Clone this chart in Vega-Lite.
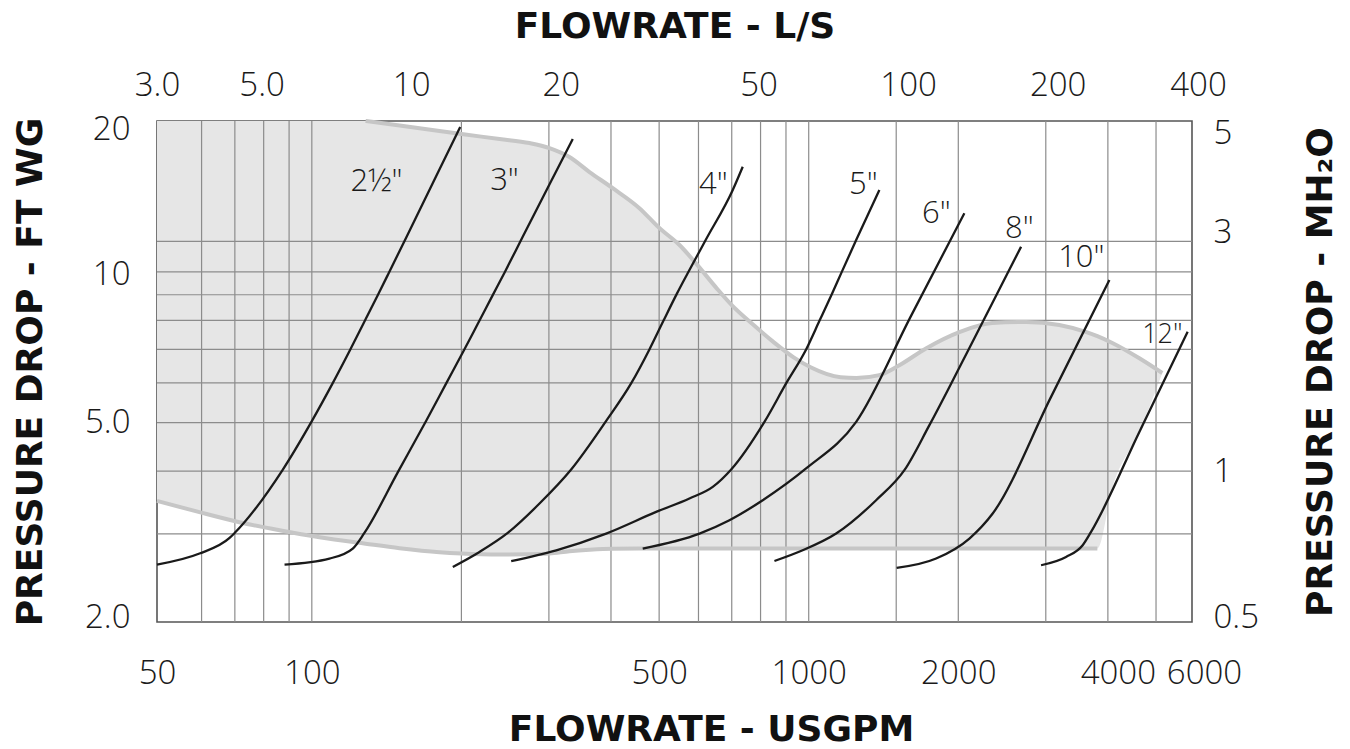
{
  "$schema": "https://vega.github.io/schema/vega-lite/v6.json",
  "width": 1035,
  "height": 501,
  "autosize": {"type": "none"},
  "padding": {"left": 157, "top": 121, "right": 158, "bottom": 127},
  "background": "#ffffff",
  "config": {
    "view": {"stroke": "#555555", "strokeWidth": 1.6},
    "axis": {
      "domain": false, "ticks": false, "grid": false,
      "labelFont": "Open Sans", "labelFontSize": 33, "labelFontWeight": 300, "labelColor": "#1a1a1a",
      "labelOverlap": false, "labelBound": false, "labelFlush": false, "labelAngle": 0,
      "titleFont": "DejaVu Sans", "titleFontWeight": "bold", "titleFontSize": 36, "titleColor": "#111111"
    }
  },
  "datasets": {
    "region": [
      {"gpm": 48.8, "up": 20, "lo": 3.49},
      {"gpm": 59.4, "up": 20, "lo": 3.313},
      {"gpm": 71.5, "up": 20, "lo": 3.164},
      {"gpm": 86.1, "up": 20, "lo": 3.05},
      {"gpm": 103.6, "up": 20, "lo": 2.953},
      {"gpm": 128.3, "up": 20, "lo": 2.866},
      {"gpm": 150.2, "up": 19.59, "lo": 2.807},
      {"gpm": 180.7, "up": 19.1, "lo": 2.756},
      {"gpm": 200.1, "up": 18.84, "lo": 2.74},
      {"gpm": 238.6, "up": 18.41, "lo": 2.728},
      {"gpm": 274.2, "up": 18.07, "lo": 2.731},
      {"gpm": 300.8, "up": 17.66, "lo": 2.74},
      {"gpm": 330, "up": 16.95, "lo": 2.769},
      {"gpm": 362.1, "up": 15.82, "lo": 2.788},
      {"gpm": 402.7, "up": 14.7, "lo": 2.801},
      {"gpm": 456.3, "up": 13.4, "lo": 2.803},
      {"gpm": 500.6, "up": 12.23, "lo": 2.803},
      {"gpm": 549.5, "up": 11.31, "lo": 2.803},
      {"gpm": 597.1, "up": 10.31, "lo": 2.803},
      {"gpm": 652.3, "up": 9.28, "lo": 2.803},
      {"gpm": 702.4, "up": 8.55, "lo": 2.803},
      {"gpm": 774.7, "up": 7.83, "lo": 2.803},
      {"gpm": 850, "up": 7.24, "lo": 2.803},
      {"gpm": 932.4, "up": 6.75, "lo": 2.803},
      {"gpm": 1008.8, "up": 6.45, "lo": 2.803},
      {"gpm": 1159.6, "up": 6.16, "lo": 2.803},
      {"gpm": 1247, "up": 6.14, "lo": 2.803},
      {"gpm": 1387.5, "up": 6.22, "lo": 2.803},
      {"gpm": 1521.8, "up": 6.51, "lo": 2.803},
      {"gpm": 1725, "up": 7.04, "lo": 2.803},
      {"gpm": 2010, "up": 7.58, "lo": 2.803},
      {"gpm": 2342, "up": 7.9, "lo": 2.803},
      {"gpm": 2742, "up": 7.94, "lo": 2.803},
      {"gpm": 3194, "up": 7.83, "lo": 2.803},
      {"gpm": 3621, "up": 7.58, "lo": 2.803},
      {"gpm": 3810, "up": 7.44, "lo": 2.803},
      {"gpm": 4084, "up": 7.21, "lo": 3.706},
      {"gpm": 4629, "up": 6.72, "lo": 4.79},
      {"gpm": 5148, "up": 6.28, "lo": 6.28}
    ],
    "pipes": [
      {"pipe": "2½\"", "gpm": 48.8, "ft": 2.604},
      {"pipe": "2½\"", "gpm": 59.43, "ft": 2.74},
      {"pipe": "2½\"", "gpm": 68.31, "ft": 2.943},
      {"pipe": "2½\"", "gpm": 69.91, "ft": 3.01},
      {"pipe": "2½\"", "gpm": 87.44, "ft": 4.031},
      {"pipe": "2½\"", "gpm": 100.2, "ft": 5.053},
      {"pipe": "2½\"", "gpm": 109.9, "ft": 5.968},
      {"pipe": "2½\"", "gpm": 119.1, "ft": 6.95},
      {"pipe": "2½\"", "gpm": 126.6, "ft": 7.832},
      {"pipe": "2½\"", "gpm": 135.8, "ft": 8.99},
      {"pipe": "2½\"", "gpm": 142.2, "ft": 9.856},
      {"pipe": "2½\"", "gpm": 154.9, "ft": 11.71},
      {"pipe": "2½\"", "gpm": 175.2, "ft": 15.04},
      {"pipe": "2½\"", "gpm": 198.9, "ft": 19.45},
      {"pipe": "3\"", "gpm": 88.13, "ft": 2.604},
      {"pipe": "3\"", "gpm": 108.5, "ft": 2.677},
      {"pipe": "3\"", "gpm": 120.9, "ft": 2.803},
      {"pipe": "3\"", "gpm": 127.6, "ft": 3.012},
      {"pipe": "3\"", "gpm": 149.0, "ft": 3.982},
      {"pipe": "3\"", "gpm": 169.9, "ft": 5.043},
      {"pipe": "3\"", "gpm": 186.4, "ft": 5.988},
      {"pipe": "3\"", "gpm": 202.0, "ft": 6.947},
      {"pipe": "3\"", "gpm": 215.8, "ft": 7.875},
      {"pipe": "3\"", "gpm": 231.4, "ft": 8.994},
      {"pipe": "3\"", "gpm": 244.2, "ft": 9.961},
      {"pipe": "3\"", "gpm": 265.1, "ft": 11.69},
      {"pipe": "3\"", "gpm": 300.9, "ft": 14.95},
      {"pipe": "3\"", "gpm": 335.1, "ft": 18.41},
      {"pipe": "4\"", "gpm": 192.2, "ft": 2.576},
      {"pipe": "4\"", "gpm": 217.5, "ft": 2.76},
      {"pipe": "4\"", "gpm": 247.9, "ft": 3.012},
      {"pipe": "4\"", "gpm": 287.2, "ft": 3.447},
      {"pipe": "4\"", "gpm": 332.6, "ft": 4.031},
      {"pipe": "4\"", "gpm": 391.2, "ft": 5.04},
      {"pipe": "4\"", "gpm": 439.1, "ft": 5.987},
      {"pipe": "4\"", "gpm": 478.0, "ft": 7.0},
      {"pipe": "4\"", "gpm": 510.0, "ft": 7.982},
      {"pipe": "4\"", "gpm": 542.3, "ft": 9.025},
      {"pipe": "4\"", "gpm": 570.0, "ft": 9.91},
      {"pipe": "4\"", "gpm": 619.6, "ft": 11.55},
      {"pipe": "4\"", "gpm": 703.3, "ft": 14.57},
      {"pipe": "4\"", "gpm": 736.6, "ft": 16.21},
      {"pipe": "5\"", "gpm": 251.9, "ft": 2.647},
      {"pipe": "5\"", "gpm": 310.4, "ft": 2.781},
      {"pipe": "5\"", "gpm": 391.2, "ft": 3.003},
      {"pipe": "5\"", "gpm": 493.1, "ft": 3.317},
      {"pipe": "5\"", "gpm": 575.4, "ft": 3.528},
      {"pipe": "5\"", "gpm": 641.0, "ft": 3.721},
      {"pipe": "5\"", "gpm": 698.2, "ft": 4.031},
      {"pipe": "5\"", "gpm": 814.5, "ft": 5.017},
      {"pipe": "5\"", "gpm": 900.6, "ft": 5.987},
      {"pipe": "5\"", "gpm": 988.0, "ft": 7.0},
      {"pipe": "5\"", "gpm": 1051, "ft": 7.982},
      {"pipe": "5\"", "gpm": 1114.6, "ft": 9.054},
      {"pipe": "5\"", "gpm": 1162, "ft": 9.93},
      {"pipe": "5\"", "gpm": 1246, "ft": 11.57},
      {"pipe": "5\"", "gpm": 1387.6, "ft": 14.57},
      {"pipe": "6\"", "gpm": 463.4, "ft": 2.803},
      {"pipe": "6\"", "gpm": 602.9, "ft": 3.003},
      {"pipe": "6\"", "gpm": 692.6, "ft": 3.193},
      {"pipe": "6\"", "gpm": 808.1, "ft": 3.5},
      {"pipe": "6\"", "gpm": 988.0, "ft": 4.05},
      {"pipe": "6\"", "gpm": 1246, "ft": 5.017},
      {"pipe": "6\"", "gpm": 1602, "ft": 8.12},
      {"pipe": "6\"", "gpm": 2057, "ft": 13.09},
      {"pipe": "8\"", "gpm": 853.1, "ft": 2.647},
      {"pipe": "8\"", "gpm": 972.5, "ft": 2.781},
      {"pipe": "8\"", "gpm": 1135.5, "ft": 3.003},
      {"pipe": "8\"", "gpm": 1366.6, "ft": 3.5},
      {"pipe": "8\"", "gpm": 1558, "ft": 4.018},
      {"pipe": "8\"", "gpm": 1749.5, "ft": 4.942},
      {"pipe": "8\"", "gpm": 2165, "ft": 7.44},
      {"pipe": "8\"", "gpm": 2675, "ft": 11.22},
      {"pipe": "10\"", "gpm": 1503, "ft": 2.564},
      {"pipe": "10\"", "gpm": 1804.7, "ft": 2.677},
      {"pipe": "10\"", "gpm": 2105.6, "ft": 2.935},
      {"pipe": "10\"", "gpm": 2345.6, "ft": 3.293},
      {"pipe": "10\"", "gpm": 3074, "ft": 5.628},
      {"pipe": "10\"", "gpm": 4028, "ft": 9.627},
      {"pipe": "12\"", "gpm": 2935, "ft": 2.596},
      {"pipe": "12\"", "gpm": 3295, "ft": 2.697},
      {"pipe": "12\"", "gpm": 3559, "ft": 2.846},
      {"pipe": "12\"", "gpm": 3700, "ft": 3.026},
      {"pipe": "12\"", "gpm": 4628, "ft": 4.79},
      {"pipe": "12\"", "gpm": 5789, "ft": 7.589}
    ],
    "labels": [
      {"pipe": "2½\"", "gpm": 134.9, "ft": 15.11},
      {"pipe": "3\"", "gpm": 244.2, "ft": 15.18},
      {"pipe": "4\"", "gpm": 643, "ft": 14.9},
      {"pipe": "5\"", "gpm": 1288.6, "ft": 14.9},
      {"pipe": "6\"", "gpm": 1806.5, "ft": 13.04},
      {"pipe": "8\"", "gpm": 2654, "ft": 12.17},
      {"pipe": "10\"", "gpm": 3537, "ft": 10.65},
      {"pipe": "12\"", "gpm": 5148, "ft": 7.475}
    ],
    "xgrid": [
      {"gpm": 60}, {"gpm": 70}, {"gpm": 80}, {"gpm": 90}, {"gpm": 100},
      {"gpm": 200}, {"gpm": 300}, {"gpm": 400}, {"gpm": 500}, {"gpm": 600},
      {"gpm": 700}, {"gpm": 800}, {"gpm": 900}, {"gpm": 1000}, {"gpm": 1500},
      {"gpm": 2000}, {"gpm": 3000}, {"gpm": 4000}, {"gpm": 5000}
    ],
    "ygrid": [
      {"ft": 3}, {"ft": 4}, {"ft": 5}, {"ft": 6}, {"ft": 7},
      {"ft": 8}, {"ft": 9}, {"ft": 10}, {"ft": 11.5}
    ]
  },
  "layer": [
    {
      "data": {"name": "region"},
      "mark": {"type": "area", "color": "#e6e6e6", "interpolate": "monotone"},
      "encoding": {
        "x": {
          "field": "gpm", "type": "quantitative",
          "scale": {"type": "log", "domain": [48.8, 5907], "nice": false},
          "axis": {
            "orient": "bottom",
            "values": [48.8, 100, 500, 1000, 2000, 4000, 5907],
            "labelExpr": "datum.value < 49 ? '50' : datum.value > 5900 ? '6000' : format(datum.value, 'd')",
            "labelPadding": 35,
            "labelOffset": {"condition": [{"test": "datum.value == 4000", "value": 10}, {"test": "datum.value > 5900", "value": 12}], "value": 0},
            "title": "FLOWRATE - USGPM",
            "titleX": 554, "titleY": 107, "titleAlign": "center", "titleBaseline": "middle"
          }
        },
        "y": {
          "field": "up", "type": "quantitative",
          "scale": {"type": "log", "domain": [2, 20], "nice": false},
          "axis": {
            "orient": "left",
            "values": [2, 5, 10, 20],
            "labelExpr": "datum.value == 2 ? '2.0' : datum.value == 5 ? '5.0' : format(datum.value, 'd')",
            "labelPadding": 27,
            "labelOffset": {"condition": [{"test": "datum.value == 20", "value": 8}, {"test": "datum.value == 2", "value": -5}, {"test": "datum.value == 10", "value": 3}], "value": 0},
            "title": "PRESSURE DROP - FT WG",
            "titleAngle": -90, "titleX": -127, "titleBaseline": "middle"
          }
        },
        "y2": {"field": "lo"}
      }
    },
    {
      "data": {"name": "xgrid"},
      "mark": {"type": "rule", "color": "#8c8c8c", "strokeWidth": 1.2},
      "encoding": {
        "x": {"field": "gpm", "type": "quantitative", "scale": {"type": "log", "domain": [48.8, 5907], "nice": false}, "axis": null}
      }
    },
    {
      "data": {"name": "ygrid"},
      "mark": {"type": "rule", "color": "#8c8c8c", "strokeWidth": 1.2},
      "encoding": {
        "y": {"field": "ft", "type": "quantitative", "scale": {"type": "log", "domain": [2, 20], "nice": false}, "axis": null}
      }
    },
    {
      "data": {"name": "region"},
      "transform": [{"filter": "datum.gpm >= 128"}],
      "mark": {"type": "line", "color": "#c6c6c6", "strokeWidth": 4, "interpolate": "monotone"},
      "encoding": {
        "x": {"field": "gpm", "type": "quantitative", "scale": {"type": "log", "domain": [48.8, 5907], "nice": false}, "axis": null},
        "y": {"field": "up", "type": "quantitative", "scale": {"type": "log", "domain": [2, 20], "nice": false}, "axis": null}
      }
    },
    {
      "data": {"name": "region"},
      "transform": [{"filter": "datum.gpm <= 3810"}],
      "mark": {"type": "line", "color": "#c6c6c6", "strokeWidth": 4, "interpolate": "monotone"},
      "encoding": {
        "x": {"field": "gpm", "type": "quantitative", "scale": {"type": "log", "domain": [48.8, 5907], "nice": false}, "axis": null},
        "y": {"field": "lo", "type": "quantitative", "scale": {"type": "log", "domain": [2, 20], "nice": false}, "axis": null}
      }
    },
    {
      "data": {"name": "pipes"},
      "mark": {"type": "line", "color": "#1a1a1a", "strokeWidth": 2.3, "interpolate": "monotone"},
      "encoding": {
        "x": {"field": "gpm", "type": "quantitative", "scale": {"type": "log", "domain": [48.8, 5907], "nice": false}, "axis": null},
        "y": {"field": "ft", "type": "quantitative", "scale": {"type": "log", "domain": [2, 20], "nice": false}, "axis": null},
        "detail": {"field": "pipe"}
      }
    },
    {
      "data": {"name": "labels"},
      "transform": [{"filter": "datum.pipe != '12\"'"}],
      "mark": {"type": "text", "font": "Open Sans", "fontSize": 31, "fontWeight": 300, "color": "#1a1a1a", "align": "center", "baseline": "middle"},
      "encoding": {
        "x": {"field": "gpm", "type": "quantitative", "scale": {"type": "log", "domain": [48.8, 5907], "nice": false}, "axis": null},
        "y": {"field": "ft", "type": "quantitative", "scale": {"type": "log", "domain": [2, 20], "nice": false}, "axis": null},
        "text": {"field": "pipe"}
      }
    },
    {
      "data": {"name": "labels"},
      "transform": [{"filter": "datum.pipe == '12\"'"}],
      "mark": {"type": "text", "font": "Open Sans", "fontSize": 27, "fontWeight": 300, "color": "#1a1a1a", "align": "center", "baseline": "middle"},
      "encoding": {
        "x": {"field": "gpm", "type": "quantitative", "scale": {"type": "log", "domain": [48.8, 5907], "nice": false}, "axis": null},
        "y": {"field": "ft", "type": "quantitative", "scale": {"type": "log", "domain": [2, 20], "nice": false}, "axis": null},
        "text": {"field": "pipe"}
      }
    },
    {
      "data": {"values": [{"gpm": 100, "ft": 5}]},
      "mark": {"type": "point", "opacity": 0},
      "encoding": {
        "x": {
          "field": "gpm", "type": "quantitative",
          "scale": {"type": "log", "domain": [48.8, 5907], "nice": false},
          "axis": {
            "orient": "top",
            "values": [48.8, 79.25, 158.5, 317, 792.5, 1585, 3170, 5907],
            "labelExpr": "datum.value < 49 ? '3.0' : datum.value < 80 ? '5.0' : datum.value > 5900 ? '400' : format(datum.value / 15.85, 'd')",
            "labelPadding": 19,
            "labelOffset": {"condition": {"test": "datum.value > 5900", "value": 6}, "value": 0},
            "title": "FLOWRATE - L/S",
            "titleY": -95, "titleBaseline": "middle"
          }
        },
        "y": {
          "field": "ft", "type": "quantitative",
          "scale": {"type": "log", "domain": [2, 20], "nice": false},
          "axis": {
            "orient": "right",
            "values": [2, 4, 12, 20],
            "labelExpr": "datum.value == 2 ? '0.5' : format(datum.value / 4, 'd')",
            "labelPadding": 21,
            "labelOffset": {"condition": [{"test": "datum.value == 20", "value": 12}, {"test": "datum.value == 2", "value": -5}], "value": 0},
            "title": "PRESSURE DROP - MH₂O",
            "titleAngle": -90, "titleX": 128, "titleBaseline": "middle"
          }
        }
      }
    }
  ],
  "resolve": {"axis": {"x": "independent", "y": "independent"}}
}
